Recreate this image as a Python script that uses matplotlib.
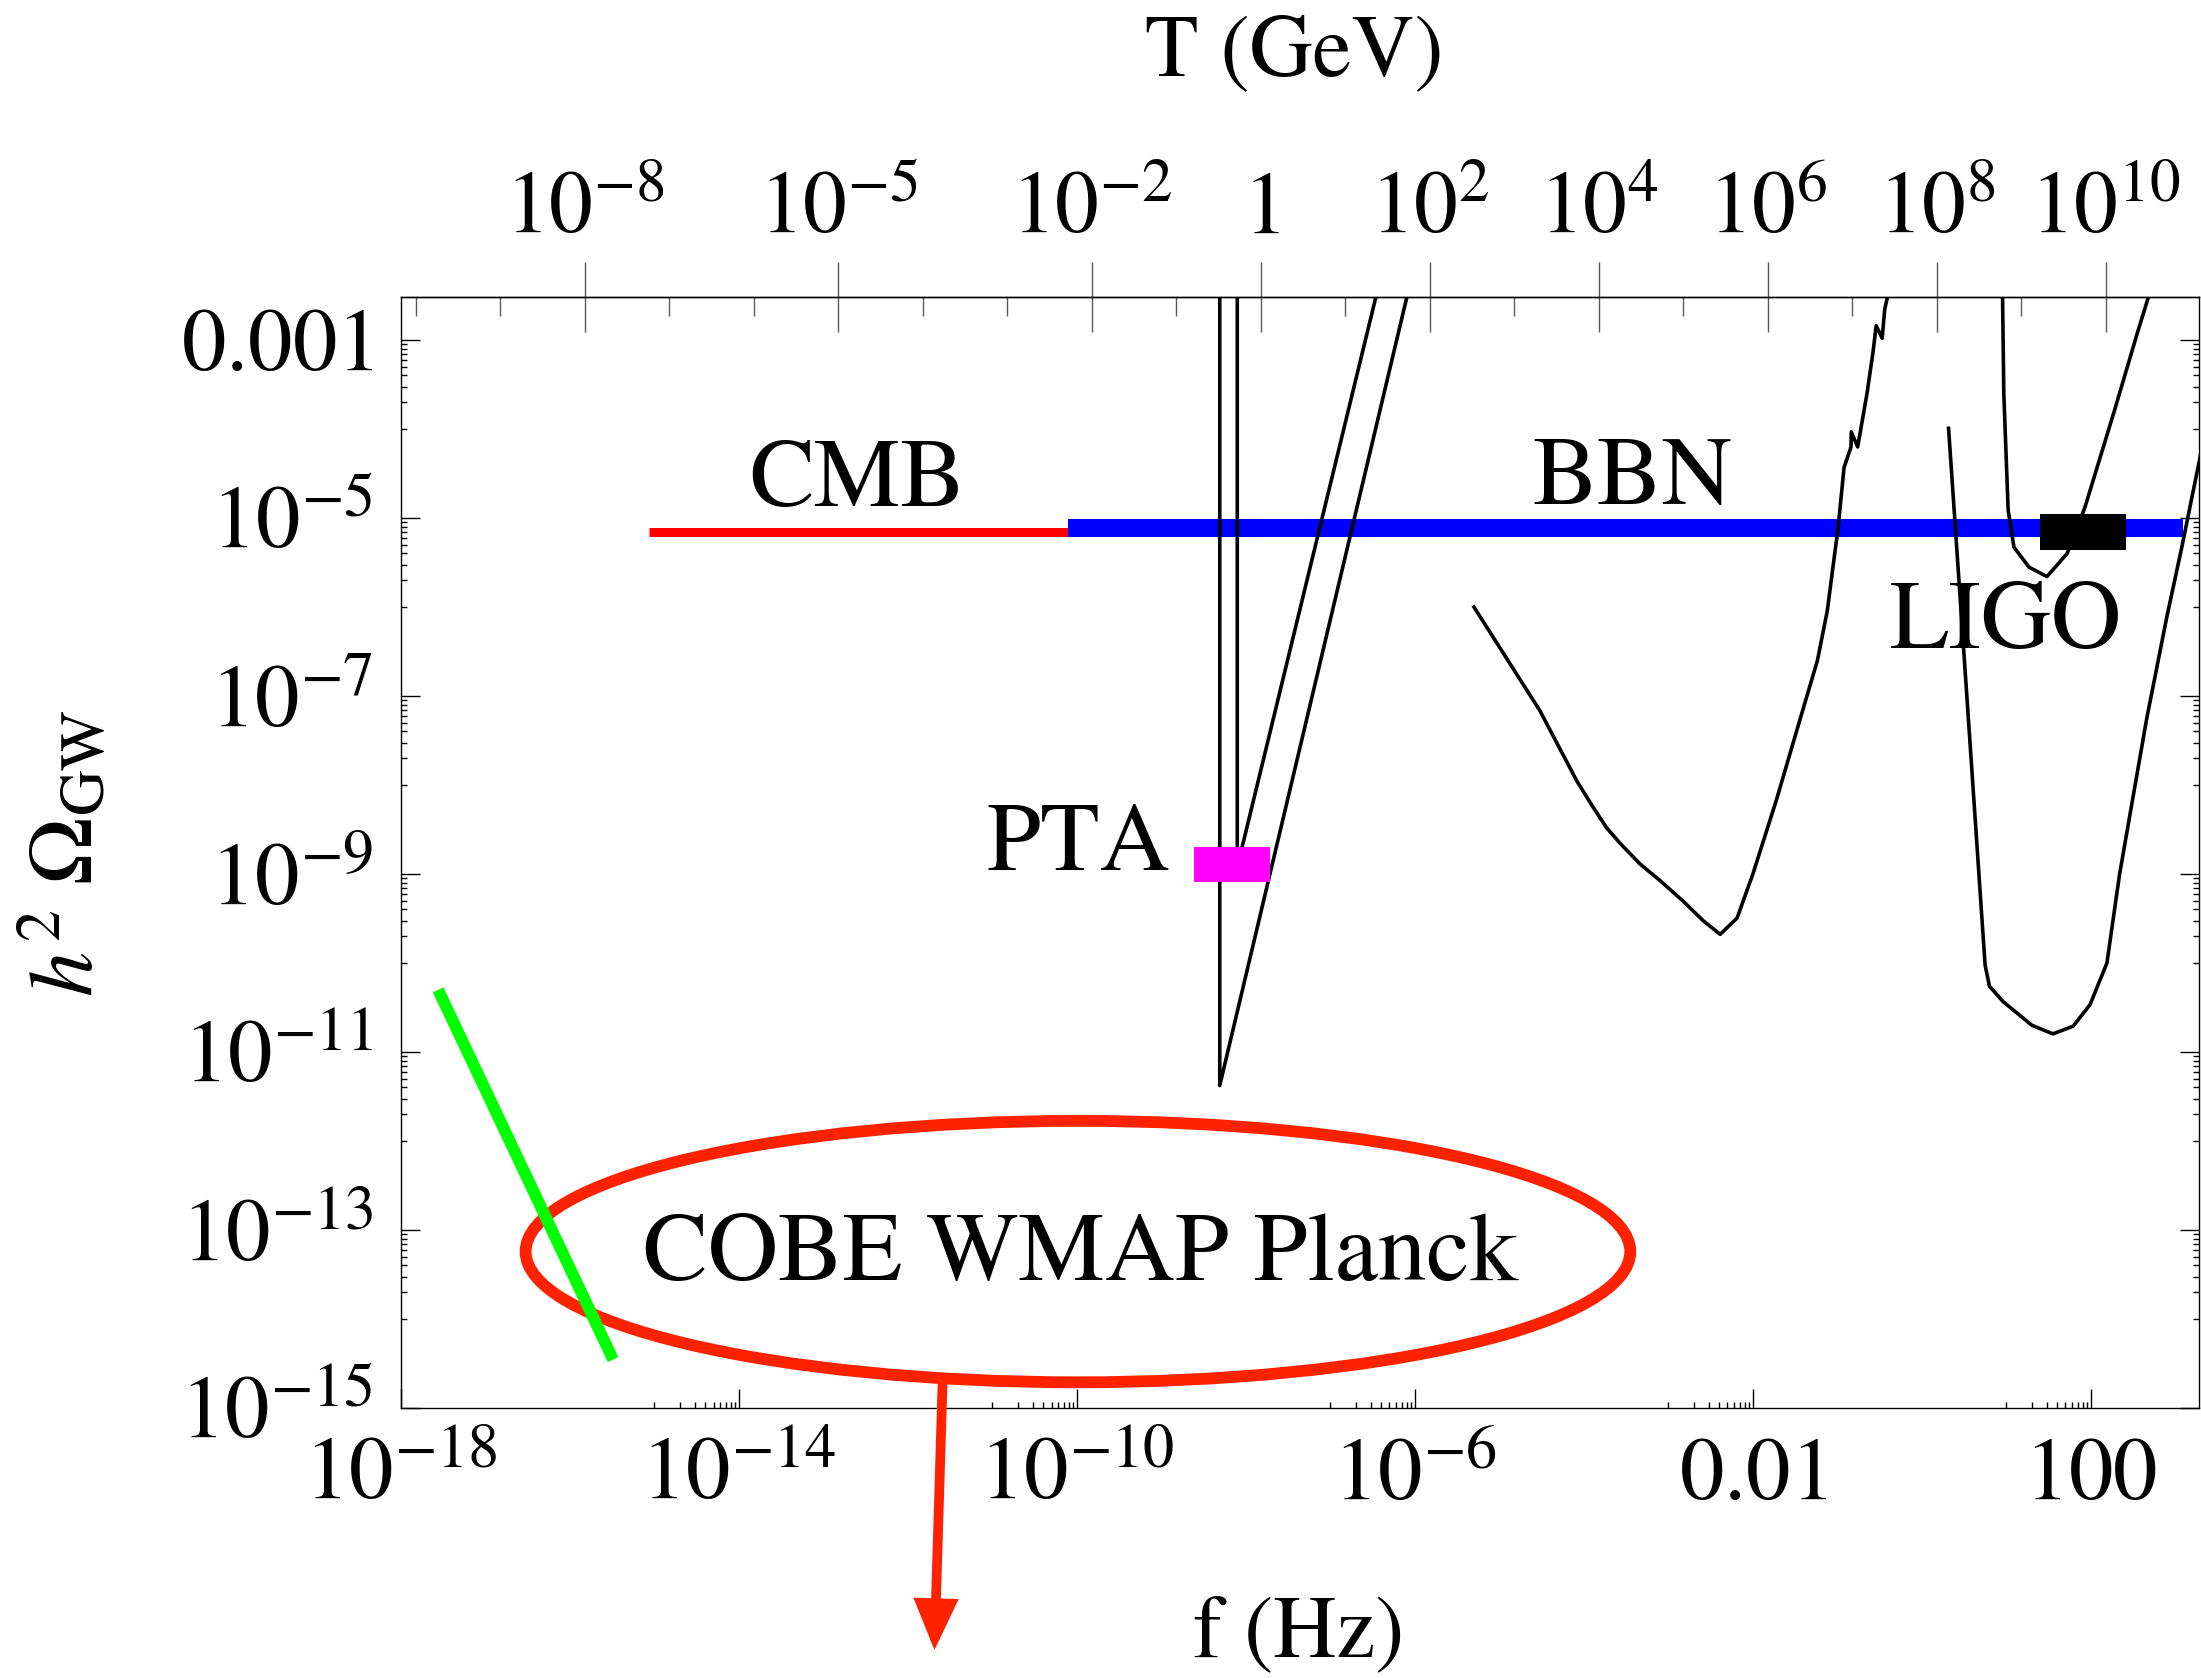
import matplotlib
matplotlib.use('Agg')
import matplotlib.pyplot as plt
from matplotlib.patches import Ellipse, FancyArrowPatch
from matplotlib.ticker import FixedLocator, NullFormatter

plt.rcParams['font.family'] = 'STIXGeneral'
plt.rcParams['mathtext.fontset'] = 'stix'

# present-day frequency of a wave produced at temperature T (Hz per GeV)
F_PER_GEV = 1.5e-8

# CMB and BBN bounds
cmb_f = [8.7e-16, 7.8e-11]
cmb_omega = [6.9e-6, 6.9e-6]
bbn_f = [7.8e-11, 1.23e3]
bbn_omega = [7.8e-6, 7.8e-6]

# pulsar timing curves
pta1_f = [4.9e-9, 4.9e-9, 8.6e-7]
pta1_omega = [4e-3, 4.2e-12, 4e-3]
pta2_f = [7.9e-9, 7.9e-9, 3.7e-7]
pta2_omega = [4e-3, 1.2e-9, 4e-3]

# space interferometer sensitivity
lisa_f = [5.0e-6, 3.0e-5, 8.3e-5, 1.29e-4, 1.86e-4, 2.7e-4, 4.6e-4, 7.9e-4,
          1.48e-3, 2.57e-3, 4.1e-3, 6.5e-3, 1.0e-2, 1.9e-2, 3.6e-2, 5.8e-2,
          7.6e-2, 0.102, 0.120, 0.145, 0.146, 0.174, 0.224, 0.263, 0.288,
          0.339, 0.363, 0.417]
lisa_omega = [1.0e-6, 6.9e-8, 1.1e-8, 5.6e-9, 3.3e-9, 2.2e-9, 1.3e-9, 8.5e-10,
              5.0e-10, 3.0e-10, 2.1e-10, 3.2e-10, 1.0e-9, 6.8e-9, 5.4e-8, 2.5e-7,
              9.1e-7, 7.8e-6, 3.7e-5, 6.3e-5, 9.3e-5, 6.3e-5, 2.5e-4, 7.1e-4,
              1.45e-3, 1.05e-3, 2.2e-3, 4.0e-3]

# ground based interferometers
ligo_f = [9.0, 9.33, 10.5, 12.3, 18.6, 30.2, 52.5, 85.1, 190.5, 355, 525]
ligo_omega = [3.5e-3, 2.5e-4, 1.23e-5, 4.7e-6, 2.8e-6, 2.2e-6, 4.0e-6,
              1.32e-5, 1.62e-4, 1.2e-3, 4.0e-3]
aligo_f = [2.07, 3.39, 5.6, 6.3, 9.1, 20, 35.5, 61.7, 97.7, 155, 219, 457,
           794, 1175, 1905, 2291]
aligo_omega = [1.02e-4, 1.07e-7, 9.5e-11, 5.5e-11, 3.7e-11, 2.0e-11, 1.6e-11,
               1.95e-11, 3.4e-11, 1.0e-10, 1.0e-9, 5.5e-8, 7.8e-7, 4.4e-6,
               4.2e-5, 1.0e-4]

green_f = [2.75e-18, 3.24e-16]
green_omega = [5.0e-11, 3.5e-15]

pta_box_f = [2.4e-9, 1.92e-8]
pta_box_omega = [8.1e-10, 2.0e-9]
ligo_box_f = [25, 260]
ligo_box_omega = [4.4e-6, 1.1e-5]

f_ticks = [1e-18, 1e-14, 1e-10, 1e-6, 1e-2, 1e2]
f_labels = [r'$10^{-18}$', r'$10^{-14}$', r'$10^{-10}$', r'$10^{-6}$',
            r'$0.01$', r'$100$']
omega_ticks = [1e-3, 1e-5, 1e-7, 1e-9, 1e-11, 1e-13, 1e-15]
omega_labels = [r'$0.001$', r'$10^{-5}$', r'$10^{-7}$', r'$10^{-9}$',
                r'$10^{-11}$', r'$10^{-13}$', r'$10^{-15}$']
T_ticks = [1e-8, 1e-5, 1e-2, 1, 1e2, 1e4, 1e6, 1e8, 1e10]
T_labels = [r'$10^{-8}$', r'$10^{-5}$', r'$10^{-2}$', r'$1$', r'$10^{2}$',
            r'$10^{4}$', r'$10^{6}$', r'$10^{8}$', r'$10^{10}$']
T_minor = [1e-10, 1e-9, 1e-7, 1e-6, 1e-4, 1e-3, 1e-1, 1e1, 1e3, 1e5, 1e7, 1e9]

fig = plt.figure(figsize=(22.01, 16.78), dpi=100)
ax = fig.add_axes([401 / 2201, 1 - 1408 / 1678, 1798 / 2201, 1111 / 1678])
ax.set_xscale('log')
ax.set_yscale('log')
ax.set_xlim(1e-18, 10 ** 3.28)
ax.set_ylim(1e-15, 10 ** -2.516)

ax.plot(cmb_f, cmb_omega, color='#ff0000', lw=6.5, solid_capstyle='butt', zorder=2)
ax.plot(bbn_f, bbn_omega, color='#0000ff', lw=13, solid_capstyle='butt', zorder=2)
for fx, om in [(pta1_f, pta1_omega), (pta2_f, pta2_omega), (lisa_f, lisa_omega),
               (ligo_f, ligo_omega), (aligo_f, aligo_omega)]:
    ax.plot(fx, om, color='k', lw=2.6, zorder=3)
ax.fill_between(pta_box_f, pta_box_omega[0], pta_box_omega[1],
                color='#ff00ff', lw=0, zorder=4)
ax.fill_between(ligo_box_f, ligo_box_omega[0], ligo_box_omega[1],
                color='k', lw=0, zorder=4)

ax.add_patch(Ellipse((0.3765, 0.1408), 0.6144, 0.2353, transform=ax.transAxes,
                     fill=False, ec='#ff2200', lw=8.5, zorder=5))
ax.plot(green_f, green_omega, color='#00ff00', lw=8.5, solid_capstyle='butt', zorder=6)
ax.add_patch(FancyArrowPatch((0.3012, 0.0222), (0.2967, -0.2178),
                             transform=ax.transAxes,
                             arrowstyle='-|>,head_length=25,head_width=11',
                             mutation_scale=1, lw=7, color='#ff2200',
                             joinstyle='miter', shrinkA=0, shrinkB=0,
                             clip_on=False, zorder=5))

ax.text(2.5e-13, 1.38e-5, 'CMB', fontsize=70, ha='center', va='baseline')
ax.text(3.7e-4, 1.45e-5, 'BBN', fontsize=70, ha='center', va='baseline')
ax.text(9.9, 3.5e-7, 'LIGO', fontsize=70, ha='center', va='baseline')
ax.text(1.26e-9, 1.12e-9, 'PTA', fontsize=70, ha='right', va='baseline')
ax.text(0.378, 0.1152, 'COBE WMAP Planck', fontsize=70, ha='center',
        va='baseline', transform=ax.transAxes)

# bottom / side axes
ax.set_xticks(f_ticks, labels=f_labels)
ax.xaxis.set_minor_locator(FixedLocator(
    [k * t / 10 for t in f_ticks for k in range(1, 10)]))
ax.xaxis.set_minor_formatter(NullFormatter())
ax.set_yticks(omega_ticks, labels=omega_labels)
ax.yaxis.set_minor_locator(FixedLocator(
    [k * t / 10 for t in omega_ticks for k in range(1, 10)]))
ax.yaxis.set_minor_formatter(NullFormatter())
ax.tick_params(axis='both', which='both', direction='in', width=1.0,
               top=False, right=True, labelsize=64)
ax.tick_params(which='major', length=14)
ax.tick_params(which='minor', length=4.5)
ax.tick_params(axis='x', pad=22)
ax.tick_params(axis='y', pad=20)
for s in ax.spines.values():
    s.set_linewidth(1.0)

ax.set_xlabel('f (Hz)', fontsize=63)
ax.xaxis.set_label_coords(0.499, -0.169)
ax.set_ylabel(r'$h^2\ \Omega_{\mathrm{GW}}$', fontsize=65)
ax.yaxis.set_label_coords(-0.160, 0.4995)

# temperature axis on top
sec = ax.secondary_xaxis('top', functions=(lambda f: f / F_PER_GEV,
                                           lambda T: T * F_PER_GEV))
sec.set_xticks(T_ticks, labels=T_labels)
sec.xaxis.set_minor_locator(FixedLocator(T_minor))
sec.xaxis.set_minor_formatter(NullFormatter())
sec.tick_params(which='major', direction='inout', length=51, width=1.0,
                color='0.35', labelsize=63, pad=7)
sec.tick_params(which='minor', direction='in', length=14, width=1.0, color='0.35')
sec.spines['top'].set_linewidth(1.0)
sec.set_xlabel('T (GeV)', fontsize=63)
sec.xaxis.set_label_coords(0.4971, 1.1995, transform=ax.transAxes)

fig.savefig('out.png', dpi=100)
